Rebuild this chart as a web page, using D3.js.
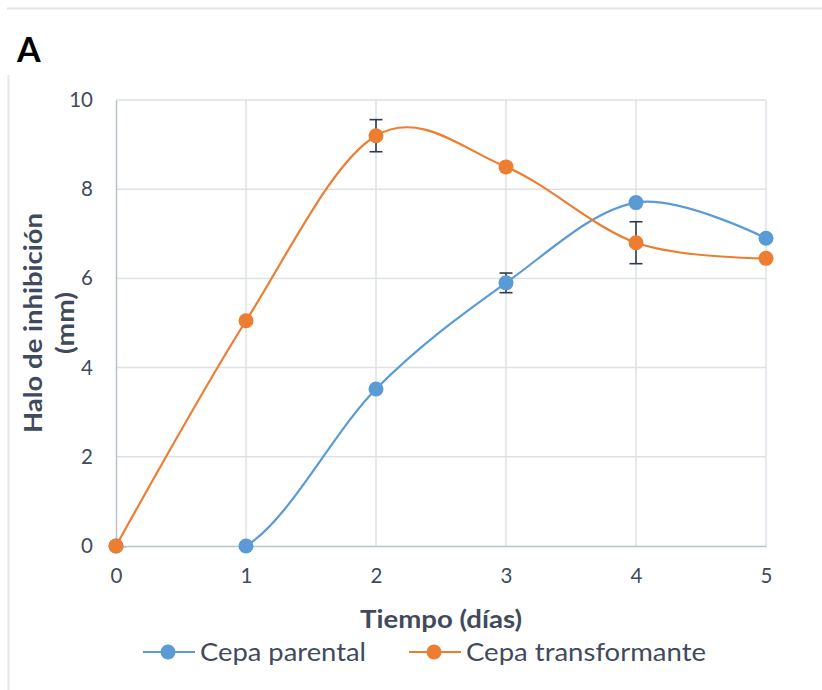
<!DOCTYPE html>
<html><head><meta charset="utf-8">
<script src="https://cdn.jsdelivr.net/npm/d3@7"></script>
<style>
html,body{margin:0;padding:0;background:#fff;}
svg{display:block;font-family:Lato,"Open Sans",sans-serif;}
</style></head>
<body><svg id="c" width="822" height="690"></svg>
<script>
const days = [0, 1, 2, 3, 4, 5];
const xTicks = [0, 1, 2, 3, 4, 5];
const yTicks = [0, 2, 4, 6, 8, 10];
const seriesNames = ["Cepa parental", "Cepa transformante"];
const parental = [0, 0, 3.52, 5.9, 7.7, 6.9];
const parentalErr = [0, 0, 0, 0.22, 0, 0];
const transformante = [0, 5.05, 9.2, 8.5, 6.8, 6.45];
const transformanteErr = [0, 0, 0.36, 0, 0.47, 0];
const colors = ["#5B9BD5", "#ED7D31"];

const svg = d3.select("#c");
const txt = "#3f4b5c";
const m = {l:116, r:766, t:100, b:546};
const x = d3.scaleLinear().domain([0,5]).range([m.l, m.r]);
const y = d3.scaleLinear().domain([0,10]).range([m.b, m.t]);

svg.append("defs").append("clipPath").attr("id","plotclip")
  .append("rect").attr("x",m.l-10).attr("y",m.t-10).attr("width",m.r-m.l+20).attr("height",m.b-m.t+11.5);

// outer frame lines
svg.append("line").attr("x1",7).attr("x2",822).attr("y1",8.5).attr("y2",8.5).attr("stroke","#e3e6ea").attr("stroke-width",2);
svg.append("line").attr("x1",8.5).attr("x2",8.5).attr("y1",75).attr("y2",690).attr("stroke","#e3e6ea").attr("stroke-width",2);

svg.append("text").attr("x",17).attr("y",62).attr("font-size",34).attr("font-weight","bold").attr("fill","#000").text("A");

// grid
const g = svg.append("g");
g.selectAll("line.h").data(yTicks.filter(d=>d>0)).join("line")
  .attr("x1",m.l).attr("x2",m.r).attr("y1",d=>y(d)).attr("y2",d=>y(d))
  .attr("stroke","#dde1e7").attr("stroke-width",1.5);
g.selectAll("line.v").data(xTicks.filter(d=>d>0)).join("line")
  .attr("y1",m.t).attr("y2",m.b).attr("x1",d=>x(d)).attr("x2",d=>x(d))
  .attr("stroke","#dde1e7").attr("stroke-width",1.5);

// axes
const xAxis = svg.append("g").attr("transform",`translate(0,${m.b})`)
  .call(d3.axisBottom(x).tickValues(xTicks).tickSize(0).tickPadding(22).tickFormat(d3.format("d")));
const yAxis = svg.append("g").attr("transform",`translate(${m.l},0)`)
  .call(d3.axisLeft(y).tickValues(yTicks).tickSize(0).tickPadding(23).tickFormat(d3.format("d")));
[xAxis,yAxis].forEach(a=>{
  a.select(".domain").attr("stroke","#b8c1cd").attr("stroke-width",1.5);
  a.selectAll("text").attr("font-size",20.5).attr("fill",txt).attr("font-family","Lato,sans-serif");
});

// titles
svg.append("text").attr("x",441).attr("y",628).attr("text-anchor","middle")
  .attr("font-size",24).attr("font-weight","bold").attr("fill",txt)
  .attr("textLength",162).attr("lengthAdjust","spacingAndGlyphs").text("Tiempo (días)");
const yt = svg.append("text").attr("transform","translate(42,323) rotate(-90)")
  .attr("text-anchor","middle").attr("font-size",25).attr("font-weight","bold").attr("fill",txt);
yt.append("tspan").attr("x",0).attr("dy",0)
  .attr("textLength",220).attr("lengthAdjust","spacingAndGlyphs").text("Halo de inhibición");
yt.append("tspan").attr("x",0).attr("dy",32)
  .attr("textLength",62).attr("lengthAdjust","spacingAndGlyphs").text("(mm)");

// series
const data = [parental, transformante];
const errs = [parentalErr, transformanteErr];
const line = d3.line().x((d,i)=>x(days[i])).y(d=>y(d)).curve(d3.curveCardinal.tension(0));
const sg = svg.append("g").attr("clip-path","url(#plotclip)");
data.forEach((s,k)=>{
  sg.append("path").datum(s).attr("d",line).attr("fill","none")
    .attr("stroke",colors[k]).attr("stroke-width",2.2);
});
// error bars
data.forEach((s,k)=>{
  const eg = svg.append("g").attr("stroke","#2e3a4b").attr("stroke-width",1.6);
  s.forEach((v,i)=>{
    const e = errs[k][i];
    if(!e) return;
    const cx = x(days[i]);
    eg.append("line").attr("x1",cx).attr("x2",cx).attr("y1",y(v+e)).attr("y2",y(v-e));
    eg.append("line").attr("x1",cx-6.5).attr("x2",cx+6.5).attr("y1",y(v+e)).attr("y2",y(v+e));
    eg.append("line").attr("x1",cx-6.5).attr("x2",cx+6.5).attr("y1",y(v-e)).attr("y2",y(v-e));
  });
});
// markers
data.forEach((s,k)=>{
  svg.append("g").selectAll("circle").data(s).join("circle")
    .attr("cx",(d,i)=>x(days[i])).attr("cy",d=>y(d)).attr("r",7.5).attr("fill",colors[k]);
});

// legend
const legX = [143, 409];
const legW = [166, 240];
seriesNames.forEach((n,k)=>{
  const lg = svg.append("g").attr("transform",`translate(${legX[k]},652)`);
  lg.append("line").attr("x1",0).attr("x2",52).attr("stroke",colors[k]).attr("stroke-width",2.2);
  lg.append("circle").attr("cx",25).attr("r",7.5).attr("fill",colors[k]);
  lg.append("text").attr("x",57).attr("y",9).attr("font-size",25).attr("fill",txt)
    .attr("textLength",legW[k]).attr("lengthAdjust","spacingAndGlyphs").text(n);
});
</script></body></html>
